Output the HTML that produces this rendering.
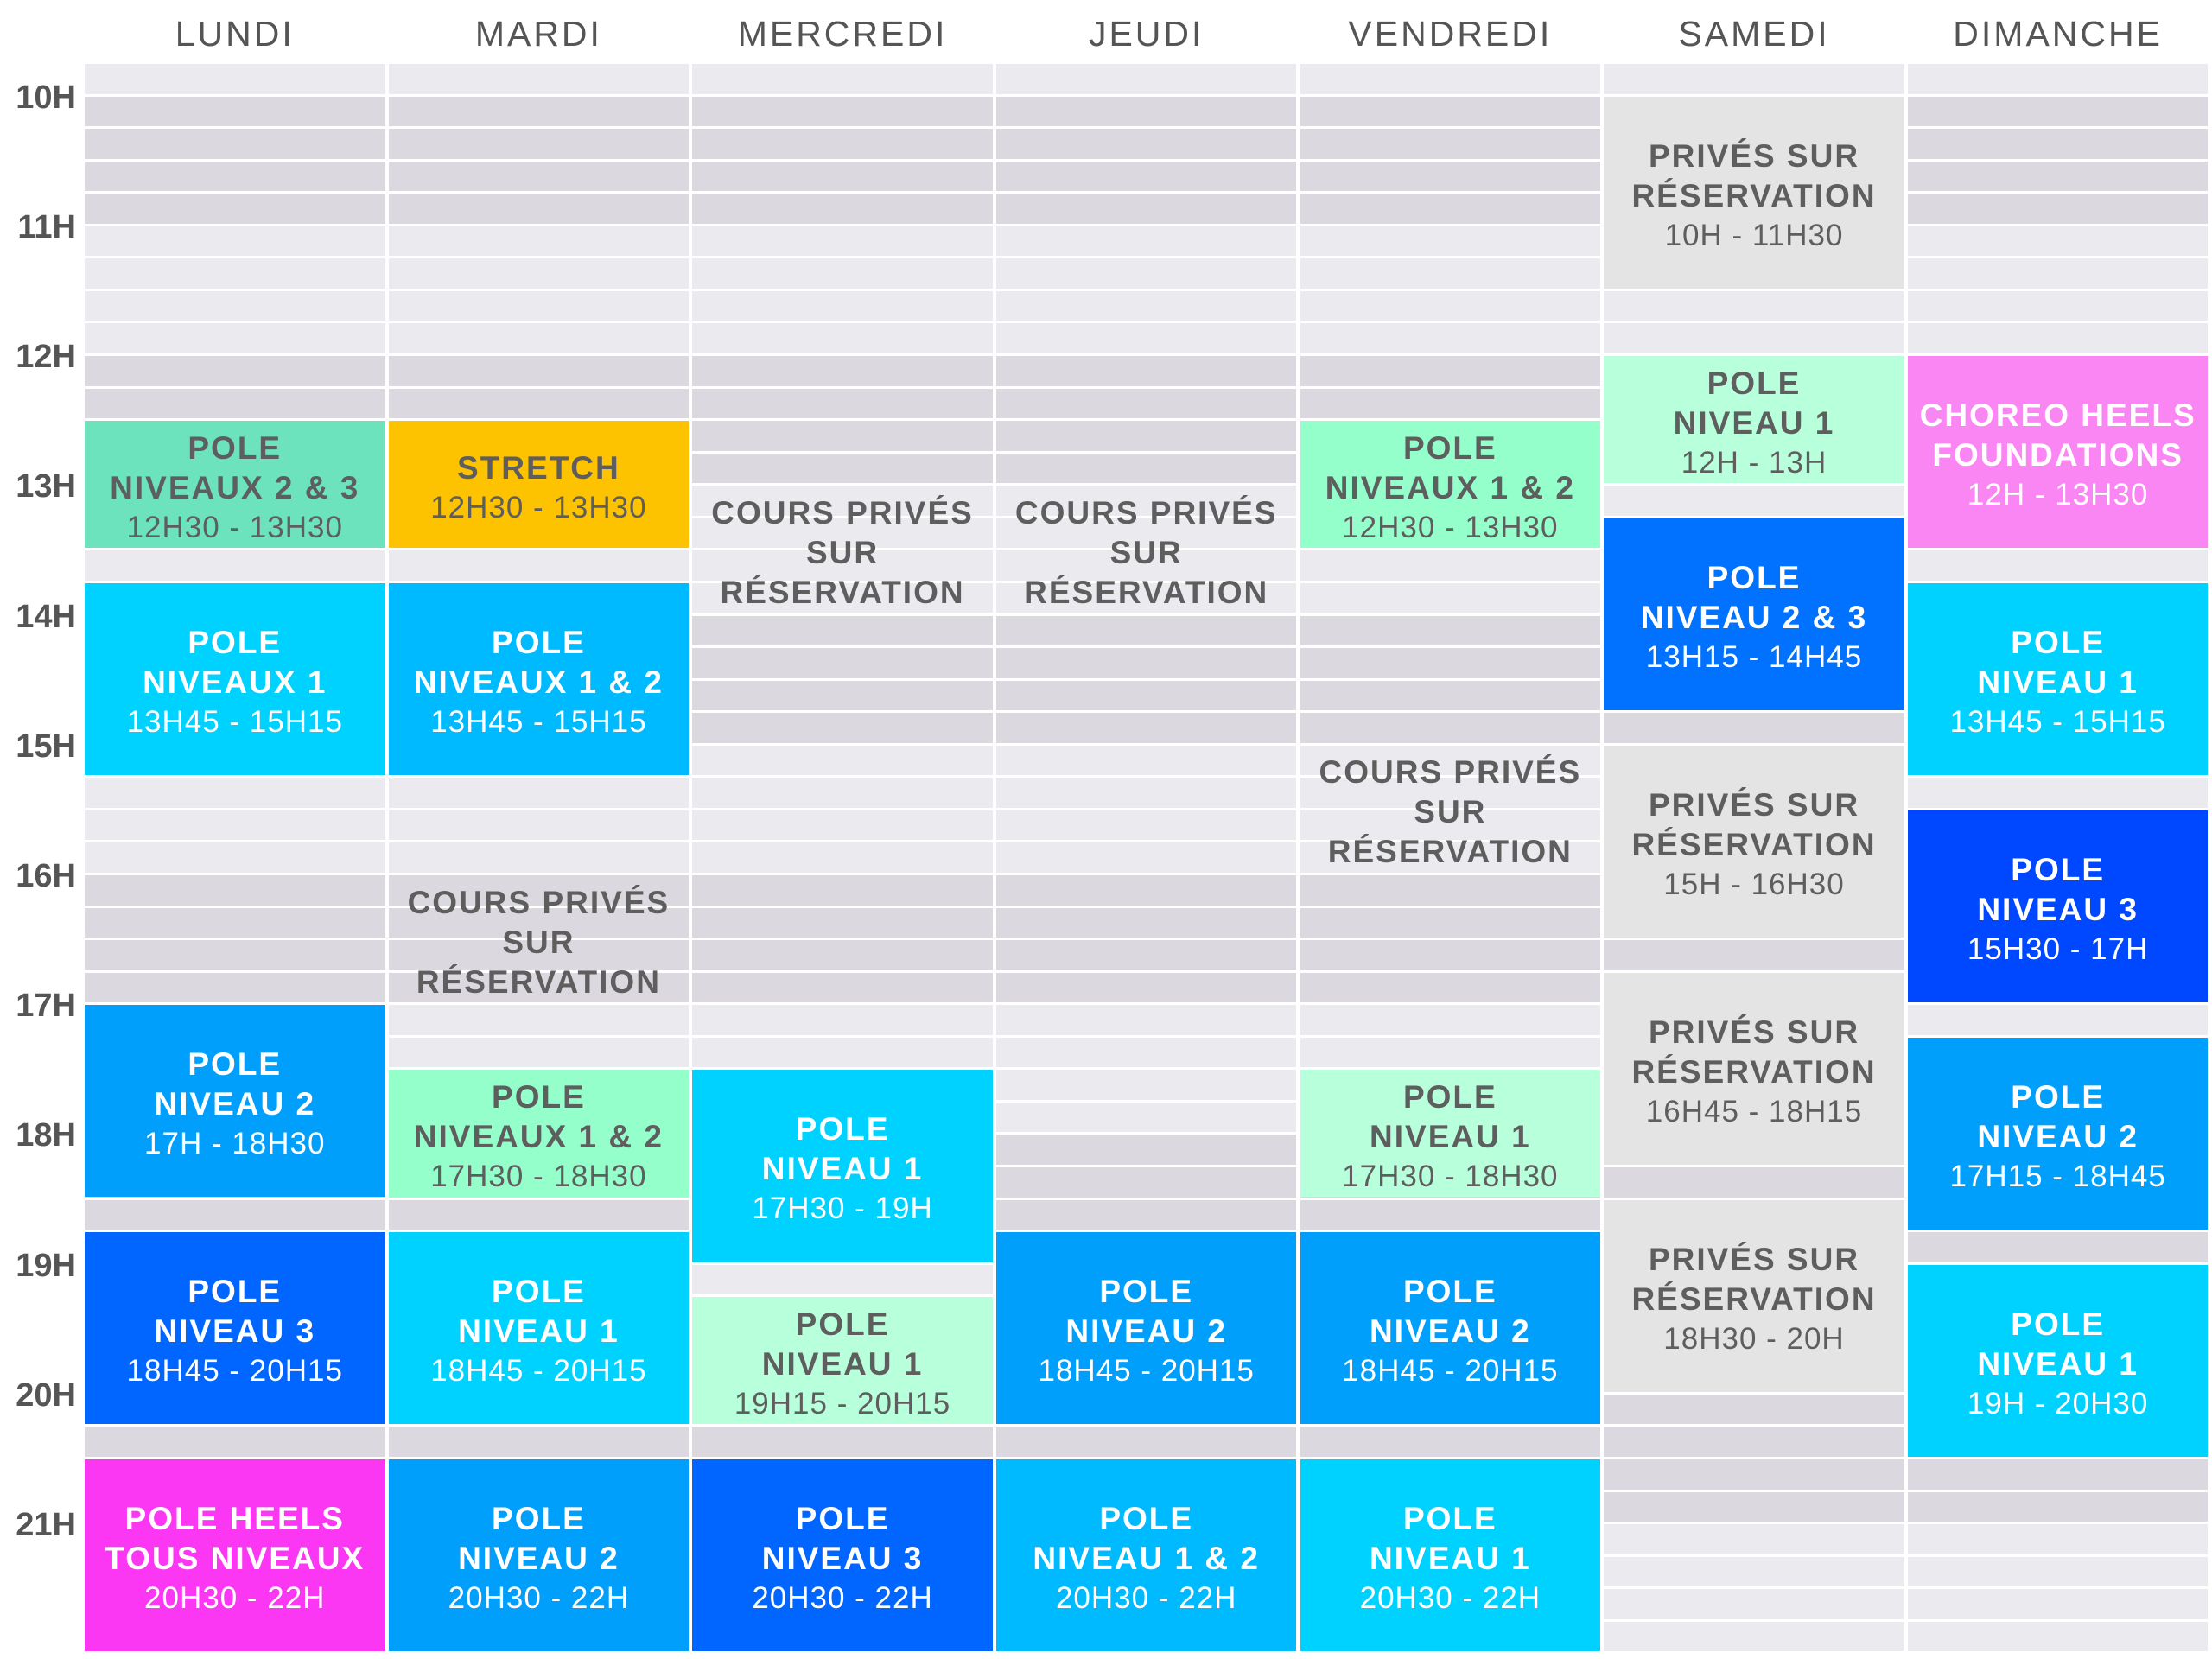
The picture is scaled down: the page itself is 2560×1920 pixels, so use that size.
<!DOCTYPE html>
<html><head><meta charset="utf-8"><style>
body{margin:0;width:2560px;height:1920px;background:#fff;position:relative;overflow:hidden;font-family:"Liberation Sans",sans-serif}
.r{position:absolute;width:347.5px;height:34.5px}
.ev{position:absolute;width:347.5px;display:flex;flex-direction:column;align-items:center;justify-content:center;text-align:center;color:#5e5e5e;box-sizing:border-box;padding-top:8px}
.ev div{line-height:46px;white-space:nowrap}
.t{font-weight:bold;font-size:37px;letter-spacing:2px}
.h{font-size:35px;letter-spacing:1px}
.w{color:#fff}
.day{position:absolute;top:16px;width:347.5px;text-align:center;font-size:41px;letter-spacing:3px;color:#555}
.hr{position:absolute;left:0;width:88px;text-align:right;font-size:38px;font-weight:bold;color:#555;line-height:40px}
</style></head><body>
<script>
const X0=98,P=351.65,Y0=74,R=37.56;
function y(t){return Y0+(t-9.75)*4*R;}
let h='';
const days=['LUNDI','MARDI','MERCREDI','JEUDI','VENDREDI','SAMEDI','DIMANCHE'];
days.forEach((d,i)=>{h+=`<div class="day" style="left:${X0+i*P}px">${d}</div>`;});
for(let hh=10;hh<=21;hh++){h+=`<div class="hr" style="top:${y(hh)-19}px">${hh}H</div>`;}
for(let c=0;c<7;c++)for(let i=0;i<49;i++){
 const band=i==0?1:Math.floor((i-1)/4)%2;
 h+=`<div class="r" style="left:${X0+c*P}px;top:${Y0+i*R}px;background:${band==0?'#dcd8df':'#ebeaef'}"></div>`;}
function ev(c,s,e,bg,lines,white){
 const top=y(s),ht=y(e)-y(s)-3.2;
 h+=`<div class="ev${white?' w':''}" style="left:${X0+c*P}px;top:${top}px;height:${ht}px;${bg?'background:'+bg:''}">`+
 lines.map((l,i)=>`<div class="${(i==lines.length-1&&l.match(/\d+H/)&&!l.match(/NIVEAU/))?'h':'t'}">${l}</div>`).join('')+`</div>`;}
ev(0,12.5,13.5,'#6de3bd',['POLE','NIVEAUX 2 &amp; 3','12H30 - 13H30']);
ev(1,12.5,13.5,'#fdc300',['STRETCH','12H30 - 13H30']);
ev(0,13.75,15.25,'#00d2ff',['POLE','NIVEAUX 1','13H45 - 15H15'],1);
ev(1,13.75,15.25,'#00baff',['POLE','NIVEAUX 1 &amp; 2','13H45 - 15H15'],1);
ev(0,17,18.5,'#009ffc',['POLE','NIVEAU 2','17H - 18H30'],1);
ev(0,18.75,20.25,'#0066ff',['POLE','NIVEAU 3','18H45 - 20H15'],1);
ev(0,20.5,22,'#fc37f4',['POLE HEELS','TOUS NIVEAUX','20H30 - 22H'],1);
ev(1,17.5,18.5,'#94ffcb',['POLE','NIVEAUX 1 &amp; 2','17H30 - 18H30']);
ev(1,18.75,20.25,'#00d2ff',['POLE','NIVEAU 1','18H45 - 20H15'],1);
ev(1,20.5,22,'#009ffc',['POLE','NIVEAU 2','20H30 - 22H'],1);
ev(1,15.75,17.25,'',['COURS PRIVÉS','SUR','RÉSERVATION']);
ev(2,12.75,14.25,'',['COURS PRIVÉS','SUR','RÉSERVATION']);
ev(3,12.75,14.25,'',['COURS PRIVÉS','SUR','RÉSERVATION']);
ev(4,14.75,16.25,'',['COURS PRIVÉS','SUR','RÉSERVATION']);
ev(2,17.5,19,'#00d2ff',['POLE','NIVEAU 1','17H30 - 19H'],1);
ev(2,19.25,20.25,'#b8ffdc',['POLE','NIVEAU 1','19H15 - 20H15']);
ev(2,20.5,22,'#0066ff',['POLE','NIVEAU 3','20H30 - 22H'],1);
ev(3,18.75,20.25,'#009ffc',['POLE','NIVEAU 2','18H45 - 20H15'],1);
ev(3,20.5,22,'#00baff',['POLE','NIVEAU 1 &amp; 2','20H30 - 22H'],1);
ev(4,12.5,13.5,'#94ffcb',['POLE','NIVEAUX 1 &amp; 2','12H30 - 13H30']);
ev(4,17.5,18.5,'#b8ffdc',['POLE','NIVEAU 1','17H30 - 18H30']);
ev(4,18.75,20.25,'#009ffc',['POLE','NIVEAU 2','18H45 - 20H15'],1);
ev(4,20.5,22,'#00d2ff',['POLE','NIVEAU 1','20H30 - 22H'],1);
ev(5,10,11.5,'#e4e4e4',['PRIVÉS SUR','RÉSERVATION','10H - 11H30']);
ev(5,12,13,'#b8ffdc',['POLE','NIVEAU 1','12H - 13H']);
ev(5,13.25,14.75,'#0072ff',['POLE','NIVEAU 2 &amp; 3','13H15 - 14H45'],1);
ev(5,15,16.5,'#e4e4e4',['PRIVÉS SUR','RÉSERVATION','15H - 16H30']);
ev(5,16.75,18.25,'#e4e4e4',['PRIVÉS SUR','RÉSERVATION','16H45 - 18H15']);
ev(5,18.5,20,'#e4e4e4',['PRIVÉS SUR','RÉSERVATION','18H30 - 20H']);
ev(6,12,13.5,'#f986f2',['CHOREO HEELS','FOUNDATIONS','12H - 13H30'],1);
ev(6,13.75,15.25,'#00d2ff',['POLE','NIVEAU 1','13H45 - 15H15'],1);
ev(6,15.5,17,'#0048ff',['POLE','NIVEAU 3','15H30 - 17H'],1);
ev(6,17.25,18.75,'#009ffc',['POLE','NIVEAU 2','17H15 - 18H45'],1);
ev(6,19,20.5,'#00d2ff',['POLE','NIVEAU 1','19H - 20H30'],1);
document.body.insertAdjacentHTML('beforeend',h);
</script>
</body></html>
